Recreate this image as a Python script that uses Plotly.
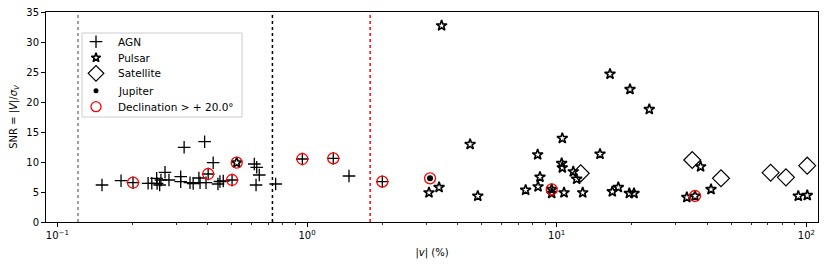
import plotly.graph_objects as go

# ---------------- data ----------------
agn_v = [0.151, 0.180, 0.201, 0.231, 0.239, 0.250, 0.251, 0.257, 0.260, 0.270,
         0.280, 0.312, 0.312, 0.322, 0.340, 0.350, 0.369, 0.373, 0.389, 0.394,
         0.402, 0.421, 0.440, 0.448, 0.462, 0.501, 0.615, 0.629, 0.644, 0.625,
         0.749, 0.958, 1.274, 1.473, 2.003]
agn_snr = [6.17, 6.88, 6.55, 6.45, 6.45, 7.28, 6.42, 6.17, 7.0, 8.28,
           7.0, 7.55, 6.72, 12.45, 6.55, 6.42, 7.33, 6.55, 13.38, 6.55,
           8.0, 9.88, 6.33, 6.75, 6.83, 7.0, 9.67, 9.12, 7.83, 6.17,
           6.33, 10.5, 10.6, 7.67, 6.72]

pulsar_v = [0.523, 3.08, 3.38, 3.46, 4.50, 4.83, 7.51, 8.39, 8.57, 8.42,
            9.55, 9.55, 10.53, 10.47, 10.53, 10.70, 11.65, 12.02, 12.71, 14.91,
            16.35, 16.70, 17.65, 19.66, 19.54, 20.40, 23.49, 33.2, 35.8, 37.7,
            41.5, 92.8, 100.8]
pulsar_snr = [9.88, 4.89, 5.78, 32.72, 12.95, 4.33, 5.33, 11.22, 7.5, 5.89,
              5.44, 4.78, 13.95, 9.78, 9.05, 4.89, 8.39, 7.17, 4.89, 11.33,
              24.67, 5.06, 5.78, 22.11, 4.78, 4.78, 18.78, 4.11, 4.33, 9.22,
              5.44, 4.33, 4.44]

satellite_v = [12.48, 34.9, 45.5, 71.9, 82.8, 100.8]
satellite_snr = [8.11, 10.33, 7.28, 8.22, 7.44, 9.39]

jupiter_v = [3.11]
jupiter_snr = [7.28]

north_v = [0.201, 0.402, 0.501, 0.523, 0.958, 1.274, 2.003, 3.11, 9.55, 35.8]
north_snr = [6.55, 8.0, 7.0, 9.88, 10.5, 10.6, 6.72, 7.28, 5.44, 4.33]

vline_v = [0.121, 0.727, 1.79]
vline_colors = ["gray", "black", "red"]

legend_labels = ["AGN", "Pulsar", "Satellite", "Jupiter", "Declination > + 20.0°"]

x_major = [0.1, 1, 10, 100]
x_major_text = ["10<sup>−1</sup>", "10<sup>0</sup>", "10<sup>1</sup>", "10<sup>2</sup>"]
x_minor = [m * d for d in (0.1, 1, 10) for m in range(2, 10)]
y_ticks = [0, 5, 10, 15, 20, 25, 30, 35]

# ---------------- styles ----------------
styles = [
    dict(symbol="cross-thin", size=9, color="black", line=dict(color="black", width=1.3)),
    dict(symbol="star-open", size=8, color="black", line=dict(color="black", width=1.6)),
    dict(symbol="diamond-open", size=13, color="black", line=dict(color="black", width=1.2)),
    dict(symbol="circle", size=6, color="black"),
    dict(symbol="circle-open", size=11, color="red", line=dict(color="red", width=1.3)),
]
series = [(agn_v, agn_snr), (pulsar_v, pulsar_snr), (satellite_v, satellite_snr),
          (jupiter_v, jupiter_snr), (north_v, north_snr)]

fig = go.Figure()

for v, c in zip(vline_v, vline_colors):
    fig.add_trace(go.Scatter(x=[v, v], y=[0, 35], mode="lines",
                             line=dict(color=c, width=1.5, dash="dot"),
                             showlegend=False, hoverinfo="skip"))

for (xs, ys), st, name in zip(series, styles, legend_labels):
    fig.add_trace(go.Scatter(x=xs, y=ys, mode="markers", name=name,
                             marker=st, showlegend=False))

# ---- custom legend drawn on an overlay axis measured in plot pixels ----
PW, PH = 772, 210  # plot area size in px
leg_left, leg_right, leg_top, leg_bottom = 36, 196, 21, 105
leg_rows = [29.7, 45.7, 61.3, 78.7, 94.7]
leg_mark_x = 50
leg_text_x = 70
leg_sizes = [9, 7, 12, 5, 10]

fig.add_shape(type="rect", xref="x2", yref="y2",
              x0=leg_left, x1=leg_right, y0=leg_top, y1=leg_bottom,
              line=dict(color="#cccccc", width=1), fillcolor="rgba(255,255,255,0.8)",
              layer="below")
for row, st, sz, name in zip(leg_rows, styles, leg_sizes, legend_labels):
    m = dict(st)
    m["size"] = sz
    fig.add_trace(go.Scatter(x=[leg_mark_x], y=[row], mode="markers", marker=m,
                             xaxis="x2", yaxis="y2", showlegend=False, hoverinfo="skip"))
    fig.add_annotation(x=leg_text_x, y=row, xref="x2", yref="y2", text=name,
                       showarrow=False, xanchor="left", yanchor="middle",
                       font=dict(family="DejaVu Sans", size=10.5, color="black"))

font = dict(family="DejaVu Sans", size=10, color="black")

fig.update_layout(
    width=830, height=267,
    margin=dict(l=46, r=12, t=12, b=45, autoexpand=False),
    paper_bgcolor="white", plot_bgcolor="white",
    font=font,
    showlegend=False,
    xaxis=dict(type="log", range=[-1.0453, 2.0465],
               tickmode="array", tickvals=x_major, ticktext=x_major_text,
               ticks="outside", ticklen=4, tickwidth=1, tickcolor="black",
               minor=dict(tickmode="array", tickvals=x_minor, ticks="outside",
                          ticklen=2, tickwidth=0.8, tickcolor="black", showgrid=False),
               showgrid=False, zeroline=False, automargin=False,
               showline=True, linecolor="black", linewidth=1, mirror=True,
               title=dict(text="|<i>v</i>| (%)", font=font, standoff=8)),
    yaxis=dict(range=[0, 35], tickmode="array", tickvals=y_ticks,
               ticks="outside", ticklen=4, tickwidth=1, tickcolor="black",
               ticklabeloverflow="allow",
               showgrid=False, zeroline=False, automargin=False,
               showline=True, linecolor="black", linewidth=1, mirror=True,
               title=dict(text="SNR = |<i>V</i>|/<i>σ</i><sub><i>V</i></sub>",
                          font=font, standoff=6)),
    xaxis2=dict(overlaying="x", range=[0, PW], visible=False, fixedrange=True),
    yaxis2=dict(overlaying="y", range=[PH, 0], visible=False, fixedrange=True),
)

fig.write_html("out.html",
               config={"displayModeBar": False, "staticPlot": True},
               post_script="document.body.style.margin='0';document.body.style.overflow='hidden';")
